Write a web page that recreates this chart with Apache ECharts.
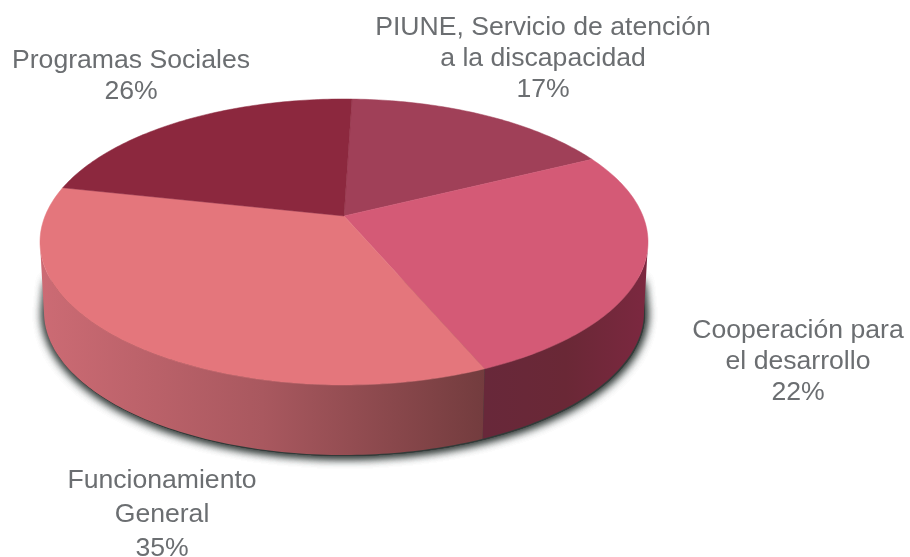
<!DOCTYPE html>
<html>
<head>
<meta charset="utf-8">
<style>
  html, body { margin: 0; padding: 0; background: #ffffff; }
  #chart { width: 910px; height: 557px; }
</style>
</head>
<body>
<div id="chart"></div>
<script src="https://cdn.jsdelivr.net/npm/echarts@6/dist/echarts.min.js"></script>
<script>
const categories = [
  'PIUNE, Servicio de atención\na la discapacidad',
  'Cooperación para\nel desarrollo',
  'Funcionamiento\nGeneral',
  'Programas Sociales',
]
// percentages as printed next to each slice
const printedPercents = [17, 22, 35, 26]
// slice sizes as measured in the picture: the two middle-sized slices are
// drawn the other way round from what their labels say
const drawnShares = [17.2, 25.9, 34.8, 22.1]

const topColors = ['#a04058', '#d45a76', '#e4767c', '#8c283e']
const wallStops = [
  null,
  ['#68283a', '#6a2836', '#7c2840'],
  ['#cc6b74', '#a9585f', '#733c3e'],
  null,
]

const labelBoxes = [
  { x: 543, y: 12, lineHeight: 31 },
  { x: 798, y: 315, lineHeight: 31 },
  { x: 162, y: 464, lineHeight: 34 },
  { x: 131, y: 45, lineHeight: 31 },
]

const startAngle = 88.2
const topRim = { cx: 344, cy: 242, rx: 304, ry: 143 }
const bottomRim = { cx: 344, cy: 312, rx: 300, ry: 143 }
// how far the pie centre appears above the middle of the ellipse
const tilt = 0.182

const toRad = (deg) => (deg * Math.PI) / 180

// circle angle -> unit ellipse point, with the centre pushed back by tilt
const project = (deg) => {
  const x = Math.cos(toRad(deg))
  const y = Math.sin(toRad(deg))
  const d = 1 + tilt * y
  return [(x * Math.sqrt(1 - tilt * tilt)) / d, (y + tilt) / d]
}

const onEllipse = (e, p) => [e.cx + e.rx * p[0], e.cy - e.ry * p[1]]

const sliceRange = (index) => {
  const total = drawnShares.reduce((a, b) => a + b, 0)
  const before = drawnShares.slice(0, index).reduce((a, b) => a + b, 0)
  const from = startAngle - (before / total) * 360
  return [from, from - (drawnShares[index] / total) * 360]
}

const renderSlice = (params, api) => {
  const i = params.dataIndex
  const [from, to] = sliceRange(i)
  const rim = []
  for (let a = from; a > to; a -= 1) {
    rim.push(project(a))
  }
  rim.push(project(to))

  const children = []
  const front = rim.filter((p) => p[1] <= 0)
  if (wallStops[i] && front.length > 1) {
    const upper = front.map((p) => onEllipse(topRim, p))
    const lower = front.map((p) => onEllipse(bottomRim, p)).reverse()
    const xs = upper.map((p) => p[0])
    const stops = wallStops[i]
    children.push({
      type: 'polygon',
      shape: { points: upper.concat(lower) },
      style: {
        fill: new echarts.graphic.LinearGradient(
          Math.min(...xs), 0, Math.max(...xs), 0,
          stops.map((color, k) => ({ offset: k / (stops.length - 1), color })),
          true
        ),
      },
    })
  }
  children.push({
    type: 'polygon',
    shape: {
      points: [onEllipse(topRim, [0, tilt])].concat(rim.map((p) => onEllipse(topRim, p))),
    },
    style: { fill: api.visual('color'), stroke: api.visual('color'), lineWidth: 0.5 },
  })
  return { type: 'group', children }
}

// soft shadow: same outline stacked three times so it stays dark next to the wall
const renderShadow = () => {
  const pts = []
  const cx = bottomRim.cx + 1
  const cy = bottomRim.cy + 1
  const rx = bottomRim.rx
  for (let a = 180; a <= 360; a += 2) {
    pts.push([cx + rx * Math.cos(toRad(a)), cy - bottomRim.ry * Math.sin(toRad(a))])
  }
  pts.push([cx + rx - 3, 282], [cx - rx + 3, 282])
  const layer = () => ({
    type: 'polygon',
    shape: { points: pts },
    style: { fill: '#333b39', shadowColor: '#333b39', shadowBlur: 11 },
  })
  return { type: 'group', children: [layer(), layer(), layer()] }
}

const chart = echarts.init(document.getElementById('chart'), null, { renderer: 'canvas' })
chart.setOption({
  backgroundColor: '#ffffff',
  animation: false,
  tooltip: { show: false },
  graphic: {
    elements: categories.map((name, i) => ({
      type: 'text',
      x: labelBoxes[i].x,
      y: labelBoxes[i].y,
      silent: true,
      style: {
        text: `${name}\n${printedPercents[i]}%`,
        align: 'center',
        verticalAlign: 'top',
        fill: '#6b6e71',
        font: '26.6px "Liberation Sans", Arial, sans-serif',
        lineHeight: labelBoxes[i].lineHeight,
      },
    })),
  },
  series: [
    {
      type: 'custom',
      coordinateSystem: 'none',
      silent: true,
      z: 1,
      data: [[1]],
      renderItem: renderShadow,
    },
    {
      type: 'custom',
      coordinateSystem: 'none',
      silent: true,
      z: 2,
      data: drawnShares.map((v, i) => ({ value: [v], itemStyle: { color: topColors[i] } })),
      renderItem: renderSlice,
    },
  ],
})
</script>
</body>
</html>
